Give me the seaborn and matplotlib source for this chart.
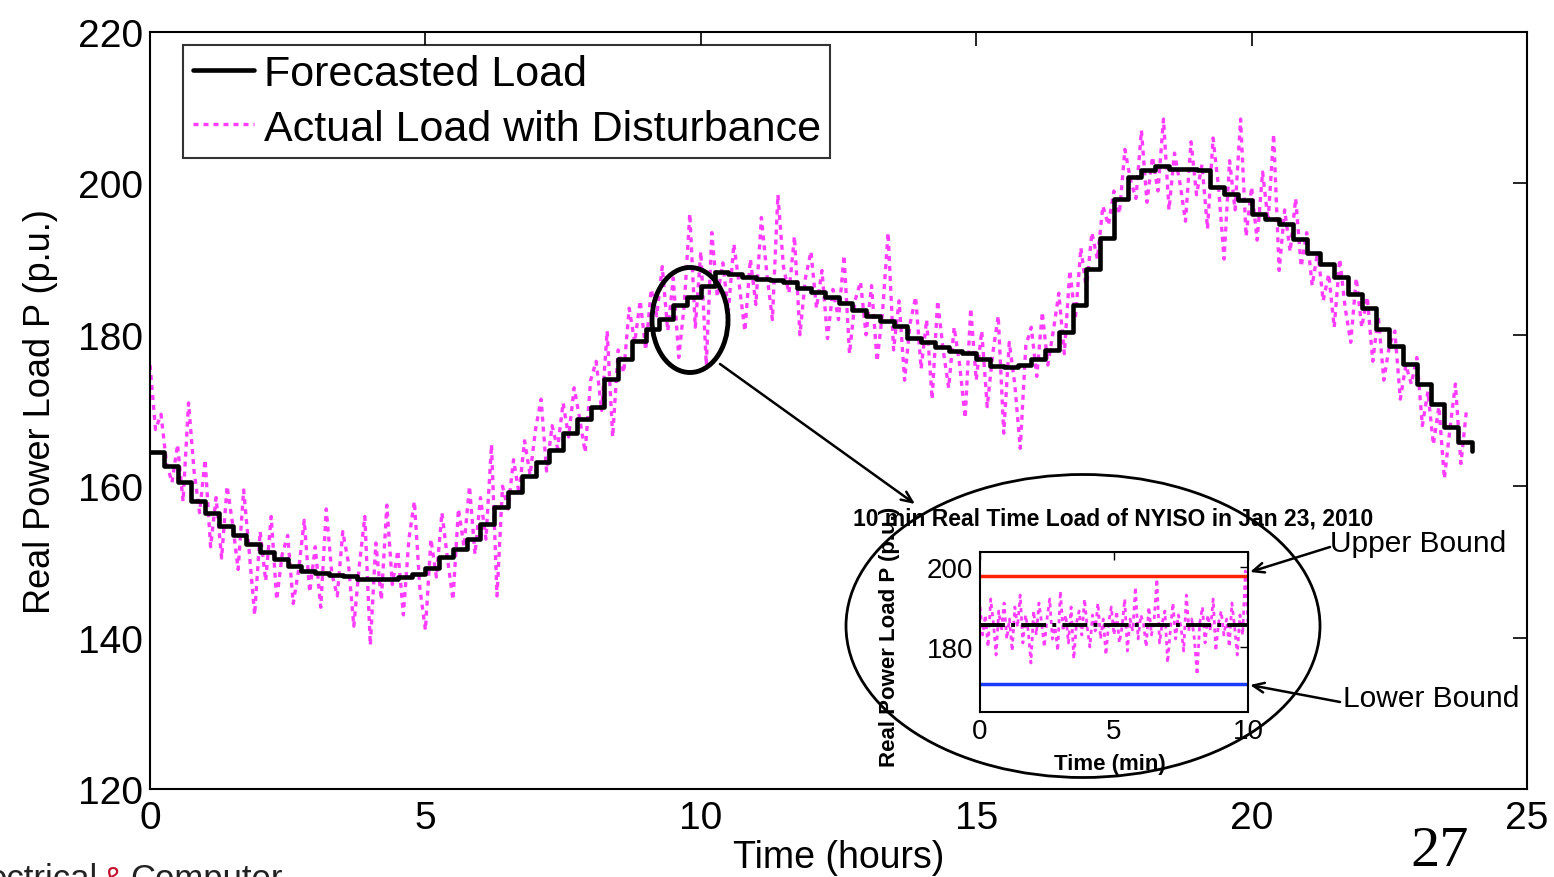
import matplotlib
matplotlib.use("Agg")
import matplotlib.pyplot as plt
from matplotlib.patches import Ellipse
import numpy as np
import seaborn as sns

# forecast load, one value every 15 min (0 .. 24 h)
forecast = [164.5, 162.7, 160.5, 158.0, 156.5, 154.8, 153.5, 152.3,
            151.3, 150.4, 149.5, 148.8, 148.5, 148.3, 148.1, 147.8,
            147.7, 147.8, 148.0, 148.4, 149.2, 150.6, 151.7, 153.0,
            155.0, 157.2, 159.2, 161.3, 163.2, 164.8, 167.0, 168.9,
            170.5, 174.2, 176.8, 179.2, 180.8, 182.1, 184.0, 185.0,
            186.5, 188.3, 188.0, 187.6, 187.4, 187.3, 187.0, 186.2,
            185.6, 185.0, 184.2, 183.3, 182.5, 181.8, 181.2, 179.6,
            179.0, 178.4, 177.9, 177.6, 176.8, 175.9, 175.8, 176.0,
            176.8, 178.0, 180.4, 184.0, 188.7, 192.8, 197.9, 200.8,
            201.8, 202.3, 201.9, 201.9, 201.8, 199.5, 198.6, 197.8,
            196.0, 195.3, 194.6, 192.6, 190.8, 189.3, 187.6, 185.4,
            183.5, 180.8, 178.5, 176.2, 173.5, 170.8, 167.8, 165.8,
            164.6]
forecast_hours = np.arange(len(forecast)) * 0.25

# actual load with disturbance, one value every 6 min
actual = [
    176.0, 167.5, 169.5, 163.0, 160.5, 165.5, 158.0, 171.0, 162.0, 156.5,
    163.5, 152.0, 158.5, 150.5, 160.0, 155.0, 149.0, 159.5, 151.5, 143.0,
    154.0, 147.5, 156.0, 145.0, 151.0, 153.5, 144.5, 149.0, 155.5, 146.0,
    152.0, 144.0, 157.0, 148.5, 145.5, 154.0, 150.0, 141.5, 149.5, 156.0,
    139.0, 152.5, 145.0, 157.5, 147.0, 151.5, 143.0, 153.0, 158.0, 146.5,
    141.0, 153.0, 148.0, 156.5, 150.5, 145.0, 157.0, 152.0, 160.0, 151.0,
    158.5, 153.0, 165.5, 145.5, 160.0, 157.0, 163.5, 159.0, 166.0, 161.5,
    167.5, 171.5, 162.0, 168.0, 165.0, 171.0, 166.5, 173.0, 169.0, 164.5,
    174.0, 176.5, 170.0, 180.5, 166.5, 178.0, 175.0, 183.5, 179.0, 184.5,
    178.0, 186.0, 182.5, 189.0, 180.5, 187.5, 177.0, 184.0, 196.0, 181.0,
    191.0, 176.0, 193.5, 185.0, 189.5, 183.0, 192.0, 186.5, 180.5, 190.0,
    184.0, 195.5, 188.0, 182.0, 198.5, 189.0, 185.5, 193.0, 180.0, 187.5,
    191.0, 183.5, 188.5, 179.5, 186.0, 182.0, 190.5, 177.5, 184.5, 187.0,
    180.0, 186.5, 176.5, 183.0, 193.5, 178.0, 184.5, 174.0, 181.5, 185.0,
    175.5, 182.0, 171.5, 184.5, 178.0, 173.0, 181.0, 176.0, 169.0, 183.5,
    174.0, 180.5, 170.5, 177.5, 182.5, 167.0, 179.0, 173.5, 165.0, 178.5,
    181.0, 174.5, 183.0, 176.0, 180.5, 185.5, 177.5, 188.5, 182.0, 191.5,
    186.0, 193.5, 190.0, 197.0, 194.5, 199.0, 196.0, 204.5, 200.5, 198.0,
    207.0, 197.5, 203.5, 199.0, 208.5, 196.5, 204.0, 200.0, 195.0, 205.5,
    198.5, 202.5, 194.0, 206.0, 199.5, 190.0, 203.0, 196.5, 208.5, 193.0,
    199.5, 192.5, 201.5, 195.0, 206.5, 188.5, 196.5, 191.0, 198.0, 189.0,
    193.5, 186.5, 191.0, 184.5, 188.0, 181.0, 190.0, 183.5, 179.0, 187.5,
    181.0, 185.0, 176.5, 182.5, 174.0, 178.5, 180.5, 171.5, 176.0, 173.5,
    177.0, 168.0, 172.5, 165.5, 170.5, 161.0, 167.5, 173.5, 163.0, 170.0]
actual_hours = np.arange(len(actual)) * 0.1

# inset: 10 min real time load
inset_actual = [
    190, 183, 188, 180, 192, 186, 178, 189, 184, 191, 182, 187, 179, 190,
    185, 193, 181, 188, 184, 176, 189, 183, 191, 186, 180, 187, 192, 182,
    185, 179, 194, 184, 188, 181, 190, 177, 186, 189, 183, 192, 185, 180,
    188, 184, 191, 182, 187, 178, 186, 190, 183, 189, 181, 185, 192, 179,
    187, 184, 195, 182, 188, 186, 180, 190, 183, 187, 197, 181, 186, 189,
    176, 184, 191, 182, 188, 185, 179, 193, 184, 187, 182, 173, 186, 190,
    181, 188, 184, 192, 179, 186, 189, 183, 187, 180, 191, 185, 178, 188,
    183, 199, 186]
inset_minutes = np.linspace(0, 10, len(inset_actual))
inset_forecast = 185.5
upper_bound = 197.7
lower_bound = 170.7

MAGENTA = "#ff3cff"

sns.set_style("white")
plt.rcParams["font.family"] = ["Liberation Sans", "DejaVu Sans"]
plt.rcParams["text.color"] = "black"
plt.rcParams["axes.labelcolor"] = "black"
plt.rcParams["xtick.color"] = "black"
plt.rcParams["ytick.color"] = "black"

W, H = 1554, 878
fig = plt.figure(figsize=(W / 100, H / 100), dpi=100)


def fx(px):
    return px / W


def fy(py):
    return 1 - py / H


ax = fig.add_axes([fx(150), fy(790), fx(1377), 757 / H])

sns.lineplot(x=actual_hours, y=actual, ax=ax, color=MAGENTA, lw=2.4,
             linestyle=(0, (1.5, 1.5)), label="Actual Load with Disturbance")
sns.lineplot(x=forecast_hours, y=forecast, ax=ax, color="black", lw=3.3,
             drawstyle="steps-post", label="Forecasted Load")

ax.set_xlim(0, 25)
ax.set_ylim(120, 220)
ax.set_xticks(range(0, 26, 5))
ax.set_yticks(range(120, 221, 20))
ax.tick_params(direction="in", top=True, right=True, length=10, width=1.2,
               labelsize=28)
ax.tick_params(axis="x", pad=8)
ax.tick_params(axis="y", pad=5)
for s in ax.spines.values():
    s.set_linewidth(1.5)
    s.set_color("black")
ax.set_xlabel("Time (hours)", fontsize=27, labelpad=2)
ax.set_ylabel("Real Power Load P (p.u.)", fontsize=26, labelpad=14)

lines = ax.get_lines()
leg = ax.legend(handles=[lines[1], lines[0]], loc="upper left",
                bbox_to_anchor=(0.024, 0.983), borderaxespad=0, fontsize=31,
                fancybox=False, frameon=True, edgecolor="black",
                handlelength=1.42, handletextpad=0.23, borderpad=0.22,
                labelspacing=0.33)
leg.get_frame().set_linewidth(1.5)

# zoom ellipses
fig.add_artist(Ellipse((fx(690), fy(321)), fx(76), 105 / H,
                       transform=fig.transFigure, fill=False, lw=3.5,
                       ec="black", zorder=5))
fig.add_artist(Ellipse((fx(1083), fy(627)), fx(474), 303 / H,
                       transform=fig.transFigure, fill=False, lw=2.0,
                       ec="black", zorder=5))

arrow = dict(arrowstyle="->,head_length=0.8,head_width=0.35", lw=1.8,
             color="black", shrinkA=0, shrinkB=0)
ax.annotate("", xy=(915, H - 505), xytext=(720, H - 365),
            xycoords="figure pixels", textcoords="figure pixels",
            arrowprops=arrow)

# inset axes
iax = fig.add_axes([fx(980), fy(713), fx(268), 160 / H])
sns.lineplot(x=inset_minutes, y=inset_actual, ax=iax, color=MAGENTA,
             lw=2.0, linestyle=(0, (1.5, 1.5)))
iax.axhline(inset_forecast, color="black", lw=2.8, linestyle="-.")
iax.axhline(upper_bound, color="#ff2200", lw=2.5)
iax.axhline(lower_bound, color="#1a3cff", lw=2.5)
iax.set_xlim(0, 10)
iax.set_ylim(163.75, 203.75)
iax.set_xticks([0, 5, 10])
iax.set_yticks([180, 200])
iax.tick_params(direction="in", top=True, right=True, length=6, width=1.0,
                labelsize=20)
iax.tick_params(axis="x", pad=4)
iax.tick_params(axis="y", pad=5)
for s in iax.spines.values():
    s.set_linewidth(1.5)
    s.set_color("black")

fig.text(fx(1113), fy(519), "10 min Real Time Load of NYISO in Jan 23, 2010",
         ha="center", va="center", fontsize=16.5, fontweight="bold")
fig.text(fx(1110), fy(765), "Time (min)", ha="center", va="center",
         fontsize=16, fontweight="bold")
fig.text(fx(889), fy(637), "Real Power Load P (p.u.)", ha="center",
         va="center", rotation=90, fontsize=16, fontweight="bold")

fig.text(fx(1330), fy(544), "Upper Bound", ha="left", va="center",
         fontsize=21.5)
fig.text(fx(1343), fy(699), "Lower Bound", ha="left", va="center",
         fontsize=21.5)
ax.annotate("", xy=(1250, H - 573), xytext=(1330, H - 548),
            xycoords="figure pixels", textcoords="figure pixels",
            arrowprops=arrow)
ax.annotate("", xy=(1250, H - 686), xytext=(1340, H - 703),
            xycoords="figure pixels", textcoords="figure pixels",
            arrowprops=arrow)

# slide page number and cut-off footer
fig.text(fx(1440), fy(852), "27", ha="center", va="center", fontsize=42,
         family="Liberation Serif")
fig.text(fx(98), -0.012, "ectrical", ha="right", va="baseline",
         fontsize=25, color="#222222")
fig.text(fx(103), -0.012, "&", ha="left", va="baseline", fontsize=22,
         color="#c8102e")
fig.text(fx(130), -0.012, "Computer", ha="left", va="baseline",
         fontsize=25, color="#222222")

fig.savefig("out.png", dpi=100)
